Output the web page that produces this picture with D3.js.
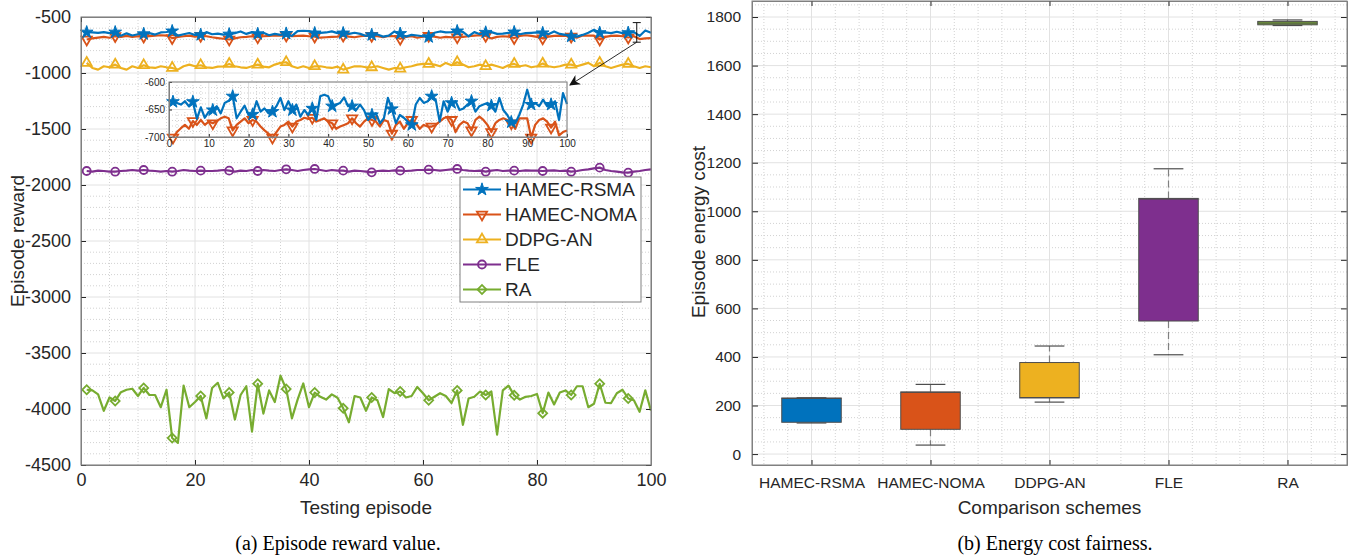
<!DOCTYPE html>
<html>
<head>
<meta charset="utf-8">
<script src="https://cdn.jsdelivr.net/npm/d3@7"></script>
<style>
  body { margin: 0; background: #fff; }
  text { font-family: "Liberation Sans", Arial, Helvetica, sans-serif; fill: #262626; }
  .caption { font-family: "Liberation Serif", "Times New Roman", serif; fill: #000; }
</style>
</head>
<body>
<svg id="chart" width="1359" height="560"></svg>
<script>
// ---- data: left panel (episode reward) ----
var episodes = d3.range(1, 101);
var rsma = [-636,-638,-641,-635,-644,-636,-667,-646,-665,-654,-651,-644,-657,-638,-634,-626,-666,-654,-643,-660,
            -659,-635,-654,-648,-657,-654,-644,-629,-651,-635,-651,-641,-663,-651,-660,-648,-669,-626,-623,-626,
            -644,-641,-638,-628,-644,-644,-651,-641,-651,-669,-660,-657,-675,-666,-629,-649,-675,-660,-665,-672,
            -678,-641,-629,-638,-635,-626,-632,-672,-635,-654,-638,-635,-651,-648,-641,-635,-654,-644,-641,-638,
            -643,-654,-629,-651,-660,-673,-675,-660,-641,-614,-641,-638,-644,-632,-644,-641,-635,-669,-620,-640];
var noma = [-701,-691,-684,-678,-685,-671,-678,-669,-678,-672,-675,-671,-666,-663,-666,-688,-678,-672,-666,-675,
            -669,-672,-681,-688,-694,-701,-691,-681,-678,-672,-681,-672,-669,-665,-667,-665,-672,-669,-666,-672,
            -675,-685,-681,-678,-675,-666,-675,-681,-672,-666,-669,-672,-681,-669,-672,-694,-678,-672,-685,-675,
            -669,-675,-685,-678,-681,-681,-678,-672,-666,-663,-669,-691,-678,-672,-675,-688,-669,-663,-669,-678,
            -691,-675,-669,-666,-669,-675,-685,-666,-666,-666,-701,-678,-669,-666,-672,-683,-672,-697,-691,-688];
var ddpg = [-910,-955,-970,-940,-949,-925,-955,-970,-940,-955,-931,-949,-955,-940,-949,-955,-970,-940,-925,-940,
            -931,-949,-955,-943,-940,-919,-940,-949,-955,-940,-925,-943,-949,-925,-910,-904,-940,-955,-940,-955,
            -940,-940,-949,-955,-943,-970,-955,-940,-940,-949,-949,-940,-955,-970,-955,-961,-949,-940,-925,-919,
            -919,-925,-940,-910,-931,-904,-925,-949,-940,-925,-940,-925,-940,-955,-931,-919,-940,-931,-949,-940,
            -916,-940,-949,-940,-925,-925,-940,-925,-910,-940,-910,-940,-955,-940,-925,-919,-940,-955,-940,-949];
var fle = [-1875,-1881,-1872,-1875,-1881,-1881,-1875,-1872,-1866,-1872,-1866,-1872,-1875,-1881,-1875,-1881,-1875,-1866,-1872,-1875,
           -1872,-1875,-1875,-1872,-1866,-1872,-1881,-1872,-1875,-1866,-1875,-1866,-1872,-1875,-1866,-1860,-1866,-1875,-1866,-1860,
           -1857,-1866,-1875,-1866,-1872,-1872,-1881,-1872,-1875,-1881,-1887,-1875,-1872,-1875,-1869,-1872,-1875,-1872,-1866,-1866,
           -1863,-1866,-1872,-1866,-1860,-1857,-1866,-1872,-1875,-1872,-1881,-1872,-1866,-1875,-1872,-1872,-1875,-1869,-1872,-1872,
           -1875,-1872,-1869,-1875,-1872,-1881,-1875,-1866,-1860,-1851,-1845,-1866,-1875,-1881,-1887,-1890,-1881,-1875,-1866,-1860];
var ra = [-3828,-3834,-3869,-4016,-3897,-3928,-3850,-3828,-3819,-3884,-3812,-3875,-3875,-3984,-3828,-4259,-4303,-3791,-3984,-3938,
          -3884,-4084,-3812,-3766,-3906,-3853,-4094,-3875,-3797,-4203,-3775,-4041,-3834,-3938,-3703,-3822,-4084,-3916,-3772,-3984,
          -3853,-3891,-3916,-3869,-3900,-3994,-4119,-3884,-3897,-4016,-3897,-3922,-4072,-3822,-3859,-3844,-3897,-3884,-3803,-3859,
          -3922,-3891,-3859,-3884,-3947,-3834,-4141,-3906,-3891,-3844,-3875,-3844,-4228,-3834,-3791,-3878,-3916,-3891,-3884,-3866,
          -4037,-3853,-3959,-3853,-3834,-3875,-3797,-3797,-3984,-3953,-3775,-3944,-3947,-3859,-3828,-3906,-3922,-4025,-3834,-4016];

var schemes = ["HAMEC-RSMA", "HAMEC-NOMA", "DDPG-AN", "FLE", "RA"];
var colors = ["#0072BD", "#D95319", "#EDB120", "#7E2F8E", "#77AC30"];
var markers = ["star", "triDown", "triUp", "circle", "diamond"];

var rewardTicks = [-4500, -4000, -3500, -3000, -2500, -2000, -1500, -1000, -500];
var episodeTicks = [0, 20, 40, 60, 80, 100];
var insetXTicks = [0, 10, 20, 30, 40, 50, 60, 70, 80, 90, 100];
var insetYTicks = [-700, -650, -600];
var zoomMark = { episode: 97.5, low: -725, high: -550 };

// ---- data: right panel (energy cost box plot) ----
var whiskerLow  = [128, 37, 214, 409, 1765];
var boxQ1       = [131, 102, 231, 548, 1768];
var boxMedian   = [229, 254, 233, 1050, 1775];
var boxQ3       = [231, 256, 377, 1053, 1782];
var whiskerHigh = [232, 287, 445, 1175, 1788];
var energyTicks = [0, 200, 400, 600, 800, 1000, 1200, 1400, 1600, 1800];

var svg = d3.select("#chart");
var plain = function(d) { return String(d); };   // hyphen minus, no thousands comma

function drawGrid(g, xs, ys, sx, sy, box, dashed) {
  var col = dashed ? "#d2d2d2" : "#e2e2e2";
  g.selectAll(null).data(xs).enter().append("line")
    .attr("x1", function(d) { return sx(d); }).attr("x2", function(d) { return sx(d); })
    .attr("y1", box.top).attr("y2", box.bottom)
    .attr("stroke", col).attr("stroke-width", 1)
    .attr("stroke-dasharray", dashed ? "1,2" : null);
  g.selectAll(null).data(ys).enter().append("line")
    .attr("y1", function(d) { return sy(d); }).attr("y2", function(d) { return sy(d); })
    .attr("x1", box.left).attr("x2", box.right)
    .attr("stroke", col).attr("stroke-width", 1)
    .attr("stroke-dasharray", dashed ? "1,2" : null);
}

function styleAxis(g, size) {
  g.attr("font-family", null).attr("font-size", null);
  g.select(".domain").attr("stroke", "#808080");
  g.selectAll(".tick line").attr("stroke", "#262626");
  g.selectAll(".tick text").style("font-size", size + "px").attr("fill", "#262626");
}

function frame(g, box) {
  g.append("rect")
    .attr("x", box.left).attr("y", box.top)
    .attr("width", box.right - box.left).attr("height", box.bottom - box.top)
    .attr("fill", "none").attr("stroke", "#808080").attr("stroke-width", 1);
}

var symbolTypes = { star: d3.symbolStar, triDown: d3.symbolTriangle, triUp: d3.symbolTriangle,
                    circle: d3.symbolCircle, diamond: d3.symbolSquare };
var symbolSizes = { star: 50, triDown: 45, triUp: 45, circle: 50, diamond: 40 };

function addMarkers(g, pts, kind, color) {
  g.selectAll(null).data(pts).enter().append("path")
    .attr("d", d3.symbol().type(symbolTypes[kind]).size(symbolSizes[kind]))
    .attr("transform", function(d) {
      var rot = kind === "triDown" ? 180 : (kind === "diamond" ? 45 : 0);
      return "translate(" + d[0] + "," + d[1] + ") rotate(" + rot + ")";
    })
    .attr("fill", kind === "star" ? color : "none")
    .attr("stroke", color)
    .attr("stroke-width", kind === "star" ? 1 : 1.8);
}

// =================== left panel ===================
var L = { left: 81, right: 651, top: 17, bottom: 465 };
var x = d3.scaleLinear().domain([0, 100]).range([L.left, L.right]);
var y = d3.scaleLinear().domain([-4500, -500]).range([L.bottom, L.top]);

var gL = svg.append("g");
drawGrid(gL, d3.range(0, 101, 5).filter(function(d) { return d % 20; }),
         d3.range(-4500, -499, 100).filter(function(d) { return d % 500; }), x, y, L, true);
drawGrid(gL, episodeTicks, rewardTicks, x, y, L, false);

var seriesData = [rsma, noma, ddpg, fle, ra];

function plotSeries(g, sx, sy, idx) {
  var vals = seriesData[idx];
  var line = d3.line()
    .x(function(d, i) { return sx(episodes[i]); })
    .y(function(d) { return sy(d); });
  g.append("path").datum(vals)
    .attr("d", line)
    .attr("fill", "none")
    .attr("stroke", colors[idx])
    .attr("stroke-width", 2.2)
    .attr("stroke-linejoin", "round");
  var pts = [];
  vals.forEach(function(v, i) { if (i % 5 === 0) pts.push([sx(episodes[i]), sy(v)]); });
  addMarkers(g, pts, markers[idx], colors[idx]);
}

for (var s = seriesData.length - 1; s >= 0; s--) plotSeries(gL, x, y, s);

var xAxisL = d3.axisBottom(x).tickValues(episodeTicks).tickFormat(plain)
  .tickSizeInner(-5).tickSizeOuter(0).tickPadding(8);
gL.append("g").attr("transform", "translate(0," + L.bottom + ")").call(xAxisL).call(styleAxis, 18);
var yAxisL = d3.axisLeft(y).tickValues(rewardTicks).tickFormat(plain)
  .tickSizeInner(-5).tickSizeOuter(0).tickPadding(10);
gL.append("g").attr("transform", "translate(" + L.left + ",0)").call(yAxisL).call(styleAxis, 18);
gL.append("g").attr("transform", "translate(0," + L.top + ")")
  .call(d3.axisBottom(x).tickValues(episodeTicks).tickSize(5).tickFormat("")).call(styleAxis, 18);
gL.append("g").attr("transform", "translate(" + L.right + ",0)")
  .call(d3.axisRight(y).tickValues(rewardTicks).tickSize(-5).tickFormat("")).call(styleAxis, 18);
frame(gL, L);

gL.append("text")
  .attr("x", (L.left + L.right) / 2).attr("y", 514)
  .attr("text-anchor", "middle")
  .style("font-size", "19px")
  .text("Testing episode");

gL.append("text")
  .attr("transform", "translate(17," + (L.top + L.bottom) / 2 + ") rotate(-90)")
  .attr("text-anchor", "middle")
  .attr("dominant-baseline", "central")
  .style("font-size", "19px")
  .text("Episode reward");

// zoom marker + arrow
var I = { left: 169, right: 567, top: 82, bottom: 137 };
var zx = x(zoomMark.episode);
gL.append("line").attr("x1", zx).attr("x2", zx).attr("y1", y(zoomMark.high)).attr("y2", y(zoomMark.low))
  .attr("stroke", "#111").attr("stroke-width", 1);
[zoomMark.high, zoomMark.low].forEach(function(v) {
  gL.append("line").attr("x1", zx - 4).attr("x2", zx + 4).attr("y1", y(v)).attr("y2", y(v))
    .attr("stroke", "#111").attr("stroke-width", 1);
});
svg.append("defs").append("marker")
  .attr("id", "arrowHead").attr("viewBox", "0 0 10 10")
  .attr("refX", 9).attr("refY", 5)
  .attr("markerWidth", 11).attr("markerHeight", 11)
  .attr("markerUnits", "userSpaceOnUse")
  .attr("orient", "auto")
  .append("path").attr("d", "M0,0 L10,5 L0,10 L3,5 z").attr("fill", "#111");
gL.append("line")
  .attr("x1", zx).attr("y1", y(zoomMark.low))
  .attr("x2", I.right + 3).attr("y2", I.top + 3)
  .attr("stroke", "#111").attr("stroke-width", 0.9)
  .attr("marker-end", "url(#arrowHead)");

// inset
var xi = d3.scaleLinear().domain([0, 100]).range([I.left, I.right]);
var yi = d3.scaleLinear().domain([-700, -600]).range([I.bottom, I.top]);
var gI = svg.append("g");
gI.append("rect").attr("x", I.left).attr("y", I.top)
  .attr("width", I.right - I.left).attr("height", I.bottom - I.top).attr("fill", "#fff");
drawGrid(gI, d3.range(0, 101, 2).filter(function(d) { return d % 10; }),
         d3.range(-700, -599, 10).filter(function(d) { return d % 50; }), xi, yi, I, true);
drawGrid(gI, insetXTicks, insetYTicks, xi, yi, I, false);
plotSeries(gI, xi, yi, 1);
plotSeries(gI, xi, yi, 0);
gI.append("g").attr("transform", "translate(0," + I.bottom + ")")
  .call(d3.axisBottom(xi).tickValues(insetXTicks).tickFormat(plain).tickSizeInner(-3).tickSizeOuter(0).tickPadding(3))
  .call(styleAxis, 10);
gI.append("g").attr("transform", "translate(" + I.left + ",0)")
  .call(d3.axisLeft(yi).tickValues(insetYTicks).tickFormat(plain).tickSizeInner(-3).tickSizeOuter(0).tickPadding(4))
  .call(styleAxis, 10);
frame(gI, I);

// legend
var leg = { left: 460, top: 177, width: 181, row: 25 };
var gLeg = svg.append("g");
gLeg.append("rect").attr("x", leg.left).attr("y", leg.top)
  .attr("width", leg.width).attr("height", leg.row * schemes.length)
  .attr("fill", "#fff").attr("stroke", "#808080").attr("stroke-width", 1);
schemes.forEach(function(name, i) {
  var cy = leg.top + leg.row / 2 + i * leg.row;
  gLeg.append("line").attr("x1", leg.left + 3).attr("x2", leg.left + 41)
    .attr("y1", cy).attr("y2", cy).attr("stroke", colors[i]).attr("stroke-width", 2.2);
  addMarkers(gLeg, [[leg.left + 22, cy]], markers[i], colors[i]);
  gLeg.append("text").attr("x", leg.left + 45).attr("y", cy)
    .attr("dominant-baseline", "central")
    .style("font-size", "19px").attr("fill", "#000")
    .text(name);
});

svg.append("text").attr("class", "caption")
  .attr("x", 338).attr("y", 550).attr("text-anchor", "middle")
  .style("font-size", "20px")
  .text("(a) Episode reward value.");

// =================== right panel ===================
var R = { left: 752, right: 1347, top: 1, bottom: 465 };
var xb = d3.scaleLinear().domain([0.5, 5.5]).range([R.left, R.right]);
var yb = d3.scaleLinear().domain([-45, 1866]).range([R.bottom, R.top]);
var cats = schemes.map(function(d, i) { return i + 1; });

var gR = svg.append("g");
drawGrid(gR, d3.range(6, 55, 2).map(function(d) { return d / 10; }).filter(function(d) { return d % 1; }),
         d3.range(0, 1851, 50).filter(function(d) { return d % 200; }), xb, yb, R, true);
drawGrid(gR, cats, energyTicks, xb, yb, R, false);

var boxes = gR.selectAll(".box").data(cats).enter().append("g").attr("class", "box");
boxes.append("line")
  .attr("x1", function(d) { return xb(d); }).attr("x2", function(d) { return xb(d); })
  .attr("y1", function(d, i) { return yb(boxQ3[i]); }).attr("y2", function(d, i) { return yb(whiskerHigh[i]); })
  .attr("stroke", "#808080").attr("stroke-width", 1.2).attr("stroke-dasharray", "7,4");
boxes.append("line")
  .attr("x1", function(d) { return xb(d); }).attr("x2", function(d) { return xb(d); })
  .attr("y1", function(d, i) { return yb(boxQ1[i]); }).attr("y2", function(d, i) { return yb(whiskerLow[i]); })
  .attr("stroke", "#808080").attr("stroke-width", 1.2).attr("stroke-dasharray", "7,4");
[whiskerHigh, whiskerLow].forEach(function(arr) {
  boxes.append("line")
    .attr("x1", function(d) { return xb(d - 0.125); }).attr("x2", function(d) { return xb(d + 0.125); })
    .attr("y1", function(d, i) { return yb(arr[i]); }).attr("y2", function(d, i) { return yb(arr[i]); })
    .attr("stroke", "#4d4d4d").attr("stroke-width", 1.2);
});
boxes.append("rect")
  .attr("x", function(d) { return xb(d - 0.25); })
  .attr("width", xb(1.25) - xb(0.75))
  .attr("y", function(d, i) { return yb(boxQ3[i]); })
  .attr("height", function(d, i) { return yb(boxQ1[i]) - yb(boxQ3[i]); })
  .attr("fill", function(d, i) { return colors[i]; })
  .attr("stroke", "#4d4d4d").attr("stroke-width", 1);
boxes.append("line")
  .attr("x1", function(d) { return xb(d - 0.25); }).attr("x2", function(d) { return xb(d + 0.25); })
  .attr("y1", function(d, i) { return yb(boxMedian[i]); }).attr("y2", function(d, i) { return yb(boxMedian[i]); })
  .attr("stroke", "#4d4d4d").attr("stroke-width", 1);

var xAxisR = d3.axisBottom(xb).tickValues(cats).tickFormat(function(d) { return schemes[d - 1]; })
  .tickSizeInner(-5).tickSizeOuter(0).tickPadding(12);
gR.append("g").attr("transform", "translate(0," + R.bottom + ")").call(xAxisR).call(styleAxis, 15.5);
var yAxisR = d3.axisLeft(yb).tickValues(energyTicks).tickFormat(plain)
  .tickSizeInner(-6).tickSizeOuter(0).tickPadding(11);
gR.append("g").attr("transform", "translate(" + R.left + ",0)").call(yAxisR).call(styleAxis, 15.5);
gR.append("g").attr("transform", "translate(0," + R.top + ")")
  .call(d3.axisBottom(xb).tickValues(cats).tickSize(5).tickFormat("")).call(styleAxis, 15);
gR.append("g").attr("transform", "translate(" + R.right + ",0)")
  .call(d3.axisRight(yb).tickValues(energyTicks).tickSize(-6).tickFormat("")).call(styleAxis, 15);
frame(gR, R);

gR.append("text")
  .attr("x", (R.left + R.right) / 2).attr("y", 514)
  .attr("text-anchor", "middle")
  .style("font-size", "19px")
  .text("Comparison schemes");

gR.append("text")
  .attr("transform", "translate(698,232) rotate(-90)")
  .attr("text-anchor", "middle")
  .attr("dominant-baseline", "central")
  .style("font-size", "19px")
  .text("Episode energy cost");

svg.append("text").attr("class", "caption")
  .attr("x", 1055).attr("y", 550).attr("text-anchor", "middle")
  .style("font-size", "20px")
  .text("(b) Energy cost fairness.");
</script>
</body>
</html>
